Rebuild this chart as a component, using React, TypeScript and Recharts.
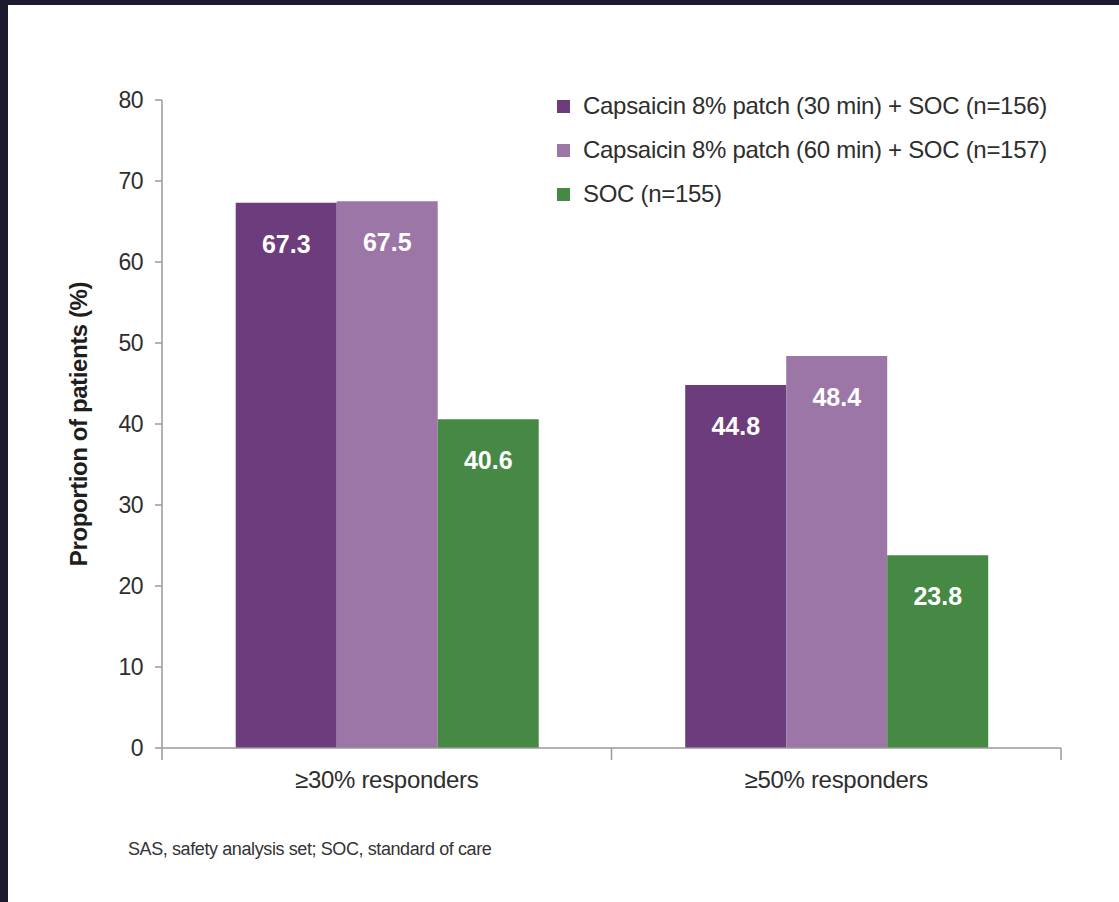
import { BarChart, Bar, XAxis, YAxis, Legend, LabelList } from "recharts";

const categories = ["≥30% responders", "≥50% responders"];
const capsaicin30 = [67.3, 44.8];
const capsaicin60 = [67.5, 48.4];
const soc = [40.6, 23.8];
const seriesNames = [
    "Capsaicin 8% patch (30 min) + SOC (n=156)",
    "Capsaicin 8% patch (60 min) + SOC (n=157)",
    "SOC (n=155)",
];
const yTicks = [0, 10, 20, 30, 40, 50, 60, 70, 80];

const data = categories.map((name, i) => ({
    name,
    c30: capsaicin30[i],
    c60: capsaicin60[i],
    soc: soc[i],
}));

const FONT = "'Liberation Sans', Arial, sans-serif";
const TEXT = "#2e2e2e";
const AXIS = "#9a9a9a";

function CategoryTick(props: any) {
    const { x, y, payload, index, width } = props;
    const half = payload?.offset ?? width / categories.length / 2;
    return (
        <g>
            {index === 0 && <line x1={x - half} y1={y} x2={x - half} y2={y + 12} stroke={AXIS} strokeWidth={1.5} />}
            <line x1={x + half} y1={y} x2={x + half} y2={y + 12} stroke={AXIS} strokeWidth={1.5} />
            <text x={x} y={y + 40} textAnchor="middle" fill={TEXT} fontSize={24} letterSpacing={-0.3} fontFamily={FONT}>
                {payload.value}
            </text>
        </g>
    );
}

function renderLegend(props: any) {
    const { payload } = props;
    return (
        <div style={{ fontFamily: FONT }}>
            {(payload || []).map((entry: any) => (
                <div key={entry.value} style={{ display: "flex", alignItems: "center", height: 44, whiteSpace: "nowrap" }}>
                    <span style={{ width: 13, height: 13, background: entry.color, display: "inline-block", marginRight: 13, flex: "none" }} />
                    <span style={{ fontSize: 24, letterSpacing: -0.3, color: TEXT }}>{entry.value}</span>
                </div>
            ))}
        </div>
    );
}

export default function App() {
    return (
        <div style={{ position: "absolute", left: 0, top: 0, width: 1119, height: 902, background: "#1b1a2e", overflow: "hidden" }}>
            <div style={{ position: "absolute", left: 8, top: 5, width: 1111, height: 897, background: "#ffffff" }} />
            <div style={{ position: "absolute", left: 0, top: 0 }}>
                <BarChart
                    width={1119}
                    height={830}
                    data={data}
                    margin={{ top: 100, right: 58, bottom: 32, left: 0 }}
                    barCategoryGap="16.4%"
                    barGap={0}
                >
                    <XAxis
                        dataKey="name"
                        height={50}
                        axisLine={{ stroke: AXIS, strokeWidth: 1.5 }}
                        tickLine={false}
                        tickSize={0}
                        tickMargin={0}
                        tick={<CategoryTick />}
                    />
                    <YAxis
                        width={162}
                        domain={[0, 80]}
                        ticks={yTicks}
                        interval={0}
                        axisLine={{ stroke: AXIS, strokeWidth: 1.5 }}
                        tickLine={{ stroke: AXIS, strokeWidth: 1.5 }}
                        tickSize={7}
                        tickMargin={12}
                        tick={{ fill: TEXT, fontSize: 23, fontFamily: FONT, letterSpacing: -0.5 }}
                        label={{
                            value: "Proportion of patients (%)",
                            angle: -90,
                            position: "insideLeft",
                            offset: 78,
                            style: { textAnchor: "middle", fontWeight: "bold", fontSize: 24, letterSpacing: -0.4, fill: "#1e1e1e", fontFamily: FONT },
                        }}
                    />
                    <Legend
                        verticalAlign="middle"
                        align="center"
                        layout="vertical"
                        content={renderLegend}
                        wrapperStyle={{ top: 84, left: 557, width: 540 }}
                    />
                    <Bar dataKey="c30" name={seriesNames[0]} fill="#6c3c7d" isAnimationActive={false}>
                        <LabelList dataKey="c30" position="insideTop" offset={32} fill="#ffffff" fontSize={25} fontWeight="bold" fontFamily={FONT} />
                    </Bar>
                    <Bar dataKey="c60" name={seriesNames[1]} fill="#9b76a6" isAnimationActive={false}>
                        <LabelList dataKey="c60" position="insideTop" offset={32} fill="#ffffff" fontSize={25} fontWeight="bold" fontFamily={FONT} />
                    </Bar>
                    <Bar dataKey="soc" name={seriesNames[2]} fill="#458945" isAnimationActive={false}>
                        <LabelList dataKey="soc" position="insideTop" offset={32} fill="#ffffff" fontSize={25} fontWeight="bold" fontFamily={FONT} />
                    </Bar>
                </BarChart>
            </div>
            <div style={{ position: "absolute", left: 128, top: 839, fontFamily: FONT, fontSize: 18, letterSpacing: -0.4, color: "#333" }}>
                SAS, safety analysis set; SOC, standard of care
            </div>
        </div>
    );
}
